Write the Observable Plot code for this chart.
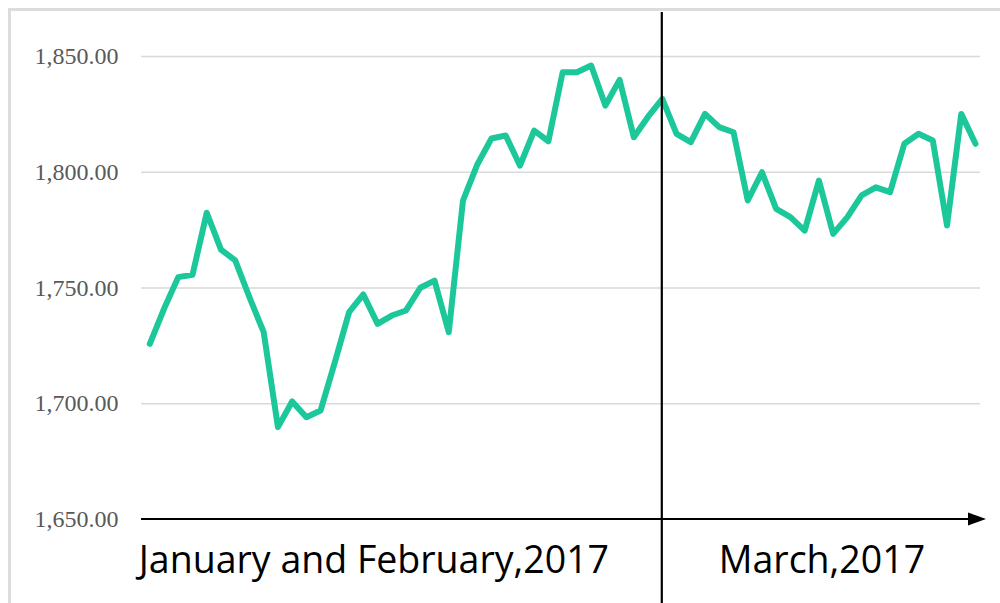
<!DOCTYPE html>
<html>
<head>
<meta charset="utf-8">
<script src="https://cdn.jsdelivr.net/npm/d3@7"></script>
<script src="https://cdn.jsdelivr.net/npm/@observablehq/plot@0.6"></script>
<style>
  html, body { margin: 0; padding: 0; background: #fff; overflow: hidden; }
  #wrap { position: relative; width: 1000px; height: 603px; }
  #frame { position: absolute; left: 8px; top: 8px; width: 1020px; height: 640px;
           border: 3px solid #dcdcdc; box-sizing: border-box; }
  #chart { position: absolute; left: 0; top: 0; }
</style>
</head>
<body>
<div id="wrap"><div id="frame"></div><div id="chart"></div></div>
<script>
// Daily values (index = trading day), Jan–Mar 2017
const values = [
  1725.9, 1741.0, 1754.7, 1755.7, 1782.5, 1766.6, 1761.9, 1746.0, 1730.9, 1689.9,
  1701.0, 1694.2, 1697.1, 1718.0, 1739.6, 1747.2, 1734.5, 1738.1, 1740.3, 1750.1,
  1753.2, 1730.9, 1787.8, 1803.3, 1814.6, 1815.9, 1802.9, 1818.0, 1813.4, 1843.2,
  1843.2, 1846.1, 1828.8, 1839.9, 1815.1, 1824.0, 1831.7, 1816.6, 1813.0, 1825.2,
  1819.5, 1817.3, 1787.8, 1800.0, 1784.2, 1780.6, 1774.8, 1796.4, 1773.4, 1780.6,
  1790.0, 1793.5, 1791.4, 1812.3, 1816.6, 1813.7, 1777.0, 1825.2, 1812.3
];
const yTicks = [1650, 1700, 1750, 1800, 1850];
const periodLabels = ["January and February,2017", "March,2017"];
const splitIndex = 36; // first day of March

const lastIndex = values.length - 1;
const labelFont = {fontSize: 37.5, fontFamily: "Open Sans", fill: "#000", lineAnchor: "bottom", dy: 53};

const chart = Plot.plot({
  width: 1000,
  height: 603,
  marginLeft: 141,
  marginRight: 20,
  marginTop: 56,
  marginBottom: 84,
  style: {background: "transparent", overflow: "visible"},
  x: {domain: [0, lastIndex], insetLeft: 8.3, insetRight: 5, axis: null},
  y: {domain: [1650, 1850]},
  marks: [
    Plot.ruleY(yTicks.slice(1), {stroke: "#d9d9d9", strokeWidth: 1.3}),
    Plot.axisY(yTicks, {
      tickSize: 0, tickPadding: 23, tickFormat: d3.format(",.2f"),
      fontSize: 24, fontFamily: "Liberation Serif", fill: "#595959", label: null
    }),
    Plot.lineY(values, {
      x: (d, i) => i, y: d => d,
      stroke: "#1cc799", strokeWidth: 6, strokeLinejoin: "round", strokeLinecap: "round"
    }),
    Plot.text([periodLabels[0]], {
      x: () => 0, y: () => 1650, text: d => d,
      textAnchor: "start", dx: -11, ...labelFont
    }),
    Plot.text([periodLabels[1]], {
      x: () => (splitIndex + lastIndex) / 2, y: () => 1650, text: d => d,
      textAnchor: "middle", dx: 3, ...labelFont
    })
  ]
});

document.getElementById("chart").appendChild(chart);

// Axis arrow and the March divider, positioned through the plot's scales
const svg = d3.select(chart);
const xs = chart.scale("x"), ys = chart.scale("y");
const yBase = ys.apply(1650);
const xStart = 141;
const xTip = 986;
svg.append("line")
  .attr("x1", xStart).attr("x2", xTip - 12)
  .attr("y1", yBase).attr("y2", yBase)
  .attr("stroke", "#000").attr("stroke-width", 2.2);
svg.append("path")
  .attr("d", `M${xTip - 18},${yBase - 6.5}L${xTip},${yBase}L${xTip - 18},${yBase + 6.5}Z`)
  .attr("fill", "#000");
const xSplit = xs.apply(splitIndex);
svg.append("line")
  .attr("x1", xSplit).attr("x2", xSplit)
  .attr("y1", 12).attr("y2", 603)
  .attr("stroke", "#000").attr("stroke-width", 2.2);
</script>
</body>
</html>
